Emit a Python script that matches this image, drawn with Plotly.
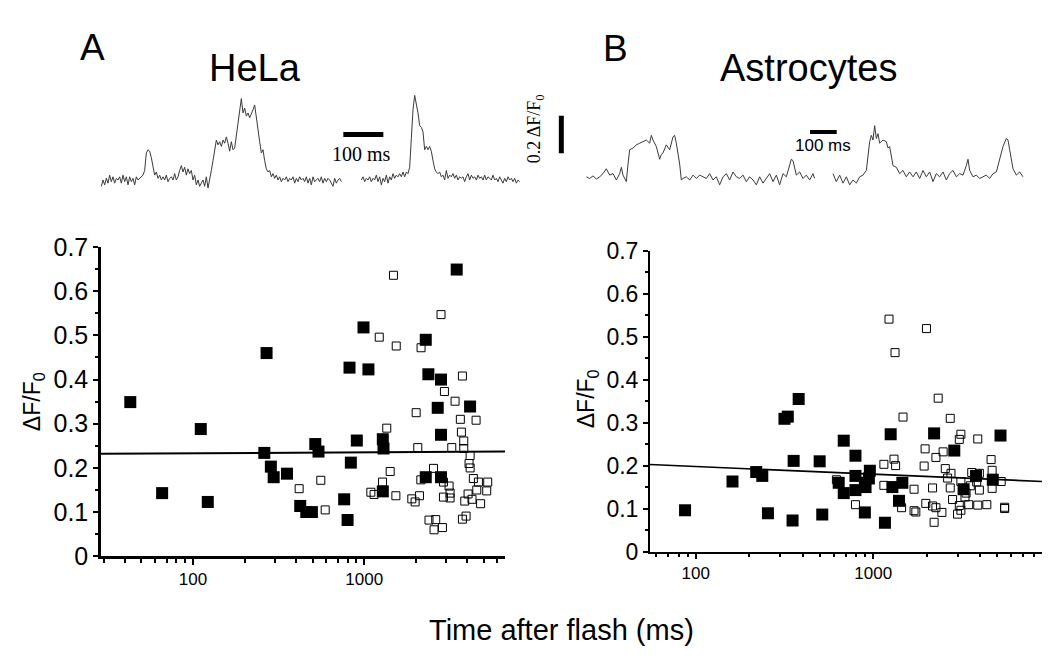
import numpy as np
import plotly.graph_objects as go

# ---------------- data: scatter panels (time after flash in ms, dF/F0) ----------------
A_FILLED_T = [43, 66, 111, 122, 269, 261, 285, 296, 354, 423, 459, 495, 518, 541, 764, 800, 821, 836,
              906, 991, 1059, 1285, 1297, 1285, 2290, 2372, 2290, 2812, 2690, 2812, 2812, 3473, 4157]
A_FILLED_Y = [0.349, 0.143, 0.288, 0.123, 0.46, 0.234, 0.203, 0.179, 0.187, 0.114, 0.1, 0.1, 0.254,
              0.237, 0.129, 0.082, 0.427, 0.212, 0.262, 0.518, 0.423, 0.265, 0.244, 0.147, 0.49, 0.412,
              0.179, 0.4, 0.336, 0.275, 0.179, 0.649, 0.339]
A_OPEN_T = [1483, 2812, 1225, 1539, 2150, 3750, 2944, 3397, 2013, 3647, 4507, 1355, 3700, 3818, 2057,
            3250, 3818, 4160, 4100, 4160, 2541, 1419, 2143, 2905, 4345, 4650, 5270, 3134, 558, 417,
            1280, 1094, 1143, 1532, 2104, 1898, 1985, 2905, 3177, 3177, 4047, 4550, 5200, 3870, 4265,
            4790, 592, 2392, 2618, 2560, 2865, 3750, 3940]
A_OPEN_Y = [0.636, 0.547, 0.496, 0.476, 0.472, 0.408, 0.373, 0.351, 0.325, 0.31, 0.308, 0.29, 0.281,
            0.261, 0.246, 0.246, 0.244, 0.228, 0.21, 0.2, 0.199, 0.192, 0.173, 0.168, 0.176, 0.168,
            0.168, 0.159, 0.172, 0.153, 0.168, 0.145, 0.14, 0.137, 0.137, 0.13, 0.123, 0.134, 0.132,
            0.143, 0.141, 0.15, 0.148, 0.125, 0.129, 0.119, 0.105, 0.082, 0.083, 0.06, 0.065, 0.084, 0.091]
A_FIT_T = [29, 6650]
A_FIT_Y = [0.232, 0.237]

B_FILLED_T = [87, 161, 219, 237, 255, 316, 330, 351, 356, 380, 499, 516, 639, 682, 682, 794, 794, 794,
              897, 897, 905, 945, 957, 1164, 1254, 1282, 1459, 1397, 2203, 2862, 3230, 3793, 4716, 5214]
B_FILLED_Y = [0.096, 0.163, 0.185, 0.176, 0.089, 0.309, 0.314, 0.072, 0.211, 0.355, 0.21, 0.086, 0.16,
              0.258, 0.136, 0.223, 0.176, 0.143, 0.16, 0.091, 0.15, 0.17, 0.188, 0.067, 0.273, 0.15,
              0.16, 0.118, 0.275, 0.235, 0.145, 0.176, 0.167, 0.27]
B_OPEN_T = [1227, 1995, 1327, 2323, 1472, 2716, 3118, 3055, 3881, 1960, 2477, 4614, 1309, 1337, 1148,
            1936, 2255, 2547, 2742, 2625, 3963, 4677, 3590, 3118, 3828, 5260, 620, 1148, 1698, 2158,
            2716, 3524, 4677, 3963, 3288, 3336, 2800, 3055, 3451, 3881, 4365, 5500, 5500, 794, 1445,
            1698, 1738, 1978, 2158, 2255, 2437, 2985, 3118, 2203]
B_OPEN_Y = [0.541, 0.519, 0.463, 0.357, 0.313, 0.31, 0.273, 0.261, 0.262, 0.239, 0.232, 0.214, 0.215,
            0.2, 0.203, 0.199, 0.219, 0.193, 0.182, 0.171, 0.182, 0.189, 0.184, 0.163, 0.162, 0.163,
            0.167, 0.154, 0.145, 0.148, 0.148, 0.153, 0.147, 0.143, 0.127, 0.136, 0.121, 0.107, 0.109,
            0.108, 0.109, 0.103, 0.1, 0.109, 0.102, 0.095, 0.092, 0.112, 0.106, 0.102, 0.091, 0.087,
            0.096, 0.068]
B_FIT_T = [55.2, 9050]
B_FIT_Y = [0.2025, 0.163]

X_TICKS = [100, 1000]
X_TICK_TEXT = ["100", "1000"]
Y_TICKS = [0, 0.1, 0.2, 0.3, 0.4, 0.5, 0.6, 0.7]
Y_TICK_TEXT = ["0", "0.1", "0.2", "0.3", "0.4", "0.5", "0.6", "0.7"]

# ---------------- data: example fluorescence traces (dF/F0) ----------------
HELA_DT = 25 / 6  # ms per sample
HELA_SEG1_T0 = 0
HELA_SEG1 = [-0.034, 0, -0.026, 0.009, -0.017, 0.026, -0.009, 0.017, -0.017, 0.009, 0, 0.017, -0.017,
             0.026, -0.009, 0.017, -0.026, 0.017, -0.009, 0.009, -0.026, 0.017, 0, 0.009, 0.017, 0.026,
             0.051, 0.145, 0.162, 0.154, 0.120, 0.060, 0.026, 0.043, 0.009, 0.026, 0, 0.017, 0, 0.026,
             -0.009, 0.009, 0.017, 0, 0.034, 0, 0.017, 0.051, 0.077, 0.043, 0.068, 0.026, 0.060, 0.034,
             0.051, 0, 0.026, -0.026, 0, -0.034, -0.017, 0, -0.034, 0.017, -0.043, 0.017, 0.051, 0.103,
             0.162, 0.214, 0.188, 0.205, 0.180, 0.214, 0.197, 0.231, 0.197, 0.154, 0.205, 0.162, 0.171,
             0.239, 0.308, 0.376, 0.436, 0.359, 0.385, 0.342, 0.359, 0.333, 0.351, 0.376, 0.402, 0.325,
             0.282, 0.205, 0.145, 0.162, 0.103, 0.060, 0.043, 0.051, 0.017, 0.034, 0.009, 0.026, 0,
             0.017, -0.009, 0.009, 0, 0.017, -0.009, 0.009, 0, 0.017, -0.017, 0.009, -0.009, 0.017, 0,
             0.009, -0.009, 0.017, -0.017, 0.009, -0.026, 0.017, -0.009, 0, 0.009, -0.009, 0.017,
             -0.017, 0.009, -0.009, 0.009, 0, -0.017, -0.034, 0.009, -0.017, 0, 0.009, -0.009]
HELA_SEG2_T0 = 650
HELA_SEG2 = [0, 0.017, -0.009, 0.009, 0, 0.017, -0.009, 0.009, 0, 0.026, -0.009, 0.017, -0.026, 0.009,
             -0.009, 0.026, -0.017, 0.017, 0, 0.034, 0.009, 0.026, 0.017, 0.034, 0.017, 0.043, 0.017,
             0.043, 0.034, 0.068, 0.222, 0.376, 0.453, 0.410, 0.359, 0.291, 0.282, 0.257, 0.162, 0.180,
             0.162, 0.180, 0.154, 0.103, 0.060, 0.043, 0.034, 0.043, 0.017, 0.026, 0, 0.051, 0.009,
             0.026, 0.017, 0.034, 0.009, 0.026, 0, 0.017, 0.009, 0.017, -0.009, 0.017, 0.034, 0, 0.026,
             0.009, 0.017, 0, 0.026, 0.009, 0.017, 0, 0.026, 0, 0.017, 0.009, 0, 0.026, 0, 0.009,
             -0.009, 0.017, 0, -0.017, 0.009, -0.009, 0.017, 0, 0.009, -0.009, 0.009, -0.017, 0, -0.009]

ASTRO_SEG1_T = [0, 12.5, 25, 37.5, 50, 62.5, 75, 87.5, 100, 112.5, 125, 131.25, 137.5, 150, 156.25,
                162.5, 175, 187.5, 200, 212.5, 225, 237.5, 243.75, 250, 262.5, 275, 281.25, 287.5, 300,
                312.5, 325, 331.25, 337.5, 350, 356.25, 362.5, 375, 387.5, 400, 412.5, 425, 437.5, 450,
                462.5, 475, 487.5, 500, 512.5, 525, 537.5, 550, 562.5, 575, 587.5, 600, 612.5, 625,
                637.5, 650, 662.5, 675, 687.5, 700, 712.5, 725, 737.5, 750, 762.5, 768.75, 775, 781.25,
                787.5, 800, 812.5, 825, 837.5, 850, 856.25]
ASTRO_SEG1_Y = [0, -0.009, 0.005, -0.012, 0, 0.017, 0.043, 0.009, 0.017, -0.017, 0.017, 0.051, 0.009,
                -0.026, 0.068, 0.145, 0.154, 0.171, 0.180, 0.188, 0.197, 0.180, 0.222, 0.197, 0.162,
                0.094, 0.120, 0.128, 0.171, 0.145, 0.214, 0.222, 0.180, 0.068, -0.017, -0.009, 0,
                -0.017, 0.009, -0.009, 0.009, 0, -0.009, 0.017, -0.017, 0, -0.043, 0, 0.017, -0.017,
                0.026, 0, -0.009, 0.009, -0.026, 0, -0.017, -0.043, 0, -0.034, -0.009, 0.017, -0.026,
                0.009, -0.043, 0.017, 0, 0.068, 0.094, 0.086, 0.043, 0.009, 0.026, -0.009, 0.009,
                -0.017, 0.017, -0.009]
ASTRO_SEG2_T = [925, 937.5, 950, 962.5, 975, 987.5, 1000, 1012.5, 1025, 1037.5, 1050, 1056.25, 1062.5,
                1068.75, 1075, 1081.25, 1087.5, 1093.75, 1100, 1112.5, 1125, 1131.25, 1137.5, 1150,
                1162.5, 1175, 1187.5, 1200, 1212.5, 1225, 1237.5, 1250, 1262.5, 1275, 1287.5, 1300,
                1312.5, 1325, 1337.5, 1350, 1362.5, 1375, 1387.5, 1400, 1412.5, 1425, 1431.25, 1437.5,
                1450, 1462.5, 1475, 1487.5, 1500, 1512.5, 1525, 1537.5, 1550, 1562.5, 1575, 1581.25,
                1587.5, 1600, 1612.5, 1625, 1637.5]
ASTRO_SEG2_Y = [0.017, -0.026, 0.009, -0.034, 0, -0.043, -0.017, -0.034, 0, 0.009, 0.034, 0.111, 0.188,
                0.222, 0.197, 0.274, 0.205, 0.231, 0.180, 0.197, 0.188, 0.154, 0.162, 0.060, 0.051,
                0.017, 0.034, 0, 0.026, 0, 0.026, -0.009, 0.034, 0, 0.026, -0.026, 0.017, 0, 0.026,
                -0.017, 0.017, 0.034, 0, 0.017, 0.009, 0.060, 0.094, 0.034, 0, 0.009, -0.009, 0, 0.009,
                -0.009, 0.017, 0.026, 0.094, 0.162, 0.205, 0.197, 0.145, 0.043, 0.009, 0.026, 0]

SCALE_MS = 100
SCALE_DFF = 0.2

# ---------------- layout helpers ----------------
W, H = 1050, 659
FONT = "Liberation Sans, Arial, sans-serif"
SERIF = "Liberation Serif, Times New Roman, serif"


def dom_x(a, b):
    return [a / W, b / W]


def dom_y(top, bottom):
    return [1 - bottom / H, 1 - top / H]


fig = go.Figure()

# scatter panel A
fig.add_trace(go.Scatter(x=A_OPEN_T, y=A_OPEN_Y, mode="markers", xaxis="x", yaxis="y",
                         marker=dict(symbol="square-open", size=8, color="black", line=dict(width=1))))
fig.add_trace(go.Scatter(x=A_FILLED_T, y=A_FILLED_Y, mode="markers", xaxis="x", yaxis="y",
                         marker=dict(symbol="square", size=12, color="black", line=dict(width=0))))
fig.add_trace(go.Scatter(x=A_FIT_T, y=A_FIT_Y, mode="lines", xaxis="x", yaxis="y",
                         line=dict(color="black", width=2)))

# scatter panel B
fig.add_trace(go.Scatter(x=B_OPEN_T, y=B_OPEN_Y, mode="markers", xaxis="x2", yaxis="y2",
                         marker=dict(symbol="square-open", size=8, color="black", line=dict(width=1))))
fig.add_trace(go.Scatter(x=B_FILLED_T, y=B_FILLED_Y, mode="markers", xaxis="x2", yaxis="y2",
                         marker=dict(symbol="square", size=12, color="black", line=dict(width=0))))
fig.add_trace(go.Scatter(x=B_FIT_T, y=B_FIT_Y, mode="lines", xaxis="x2", yaxis="y2",
                         line=dict(color="black", width=1.6)))

# traces
trace_line = dict(color="#3a3a3a", width=1)
hela_t1 = HELA_SEG1_T0 + np.arange(len(HELA_SEG1)) * HELA_DT
hela_t2 = HELA_SEG2_T0 + np.arange(len(HELA_SEG2)) * HELA_DT
fig.add_trace(go.Scatter(x=hela_t1, y=HELA_SEG1, mode="lines", xaxis="x3", yaxis="y3", line=trace_line))
fig.add_trace(go.Scatter(x=hela_t2, y=HELA_SEG2, mode="lines", xaxis="x3", yaxis="y3", line=trace_line))
fig.add_trace(go.Scatter(x=ASTRO_SEG1_T, y=ASTRO_SEG1_Y, mode="lines", xaxis="x4", yaxis="y4", line=trace_line))
fig.add_trace(go.Scatter(x=ASTRO_SEG2_T, y=ASTRO_SEG2_Y, mode="lines", xaxis="x4", yaxis="y4", line=trace_line))

# scale bars
bar_a_t0, bar_a_y = 605, 0.2436
bar_v_t, bar_v_y0 = 1150, 0.1436
bar_b_t0, bar_b_y = 839, 0.2393
fig.add_shape(type="line", xref="x3", yref="y3", x0=bar_a_t0, x1=bar_a_t0 + SCALE_MS, y0=bar_a_y, y1=bar_a_y,
              line=dict(color="black", width=5))
fig.add_shape(type="line", xref="x3", yref="y3", x0=bar_v_t, x1=bar_v_t, y0=bar_v_y0, y1=bar_v_y0 + SCALE_DFF,
              line=dict(color="black", width=5))
fig.add_shape(type="line", xref="x4", yref="y4", x0=bar_b_t0, x1=bar_b_t0 + SCALE_MS, y0=bar_b_y, y1=bar_b_y,
              line=dict(color="black", width=4))

xa_common = dict(type="log", showline=True, linecolor="black", ticks="outside", tickcolor="black",
                 tickvals=X_TICKS, ticktext=X_TICK_TEXT, showgrid=False, zeroline=False,
                 tickfont=dict(family=FONT, size=17, color="black"))
ya_common = dict(showline=True, linecolor="black", ticks="outside", tickcolor="black", range=[0, 0.7],
                 tickvals=Y_TICKS, ticktext=Y_TICK_TEXT, showgrid=False, zeroline=False)

minor_a = [v * m for m in (10, 100, 1000) for v in range(2, 10)]

fig.update_layout(
    width=W, height=H, margin=dict(l=0, r=0, t=0, b=0), autosize=False,
    paper_bgcolor="white", plot_bgcolor="white", showlegend=False,
    xaxis=dict(**xa_common, domain=dom_x(93, 497), anchor="y",
               range=[np.log10(29), np.log10(6650)], linewidth=2.5, ticklen=6, tickwidth=2,
               minor=dict(ticks="outside", ticklen=4, tickwidth=1.5, tickcolor="black",
                          tickvals=[v for v in minor_a if 29 <= v <= 6650])),
    yaxis=dict(**ya_common, domain=dom_y(235, 558), anchor="x", linewidth=2.5, ticklen=5, tickwidth=2,
               tickfont=dict(family=FONT, size=25, color="black"),
               minor=dict(ticks="outside", ticklen=3, tickwidth=1.5, tickcolor="black",
                          tickvals=[0.05, 0.15, 0.25, 0.35, 0.45, 0.55, 0.65])),
    xaxis2=dict(**xa_common, domain=dom_x(642, 1035), anchor="y2",
                range=[1.742, np.log10(9050)], linewidth=2, ticklen=5, tickwidth=2,
                minor=dict(ticks="outside", ticklen=3, tickwidth=1.5, tickcolor="black",
                           tickvals=[v for v in minor_a if 55 <= v <= 9050])),
    yaxis2=dict(**ya_common, domain=dom_y(239, 553), anchor="x2", linewidth=2, ticklen=5, tickwidth=2,
                tickfont=dict(family=FONT, size=23, color="black"),
                minor=dict(ticks="outside", ticklen=3, tickwidth=1.5, tickcolor="black",
                           tickvals=[0.05, 0.15, 0.25, 0.35, 0.45, 0.55, 0.65])),
    xaxis3=dict(visible=False, domain=dom_x(85, 562), anchor="y3",
                range=[(85 - 93.33) * 2.5, (562 - 93.33) * 2.5]),
    yaxis3=dict(visible=False, domain=dom_y(60, 180), anchor="x3",
                range=[-15 * 0.2 / 39, 105 * 0.2 / 39]),
    xaxis4=dict(visible=False, domain=dom_x(570, 1020), anchor="y4",
                range=[(570 - 578.33) * 3.75, (1020 - 578.33) * 3.75]),
    yaxis4=dict(visible=False, domain=dom_y(60, 180), anchor="x4",
                range=[(161.67 - 180) * 0.2 / 39, (161.67 - 60) * 0.2 / 39]),
)


def label(text, px, py, size, family=FONT, angle=0):
    fig.add_annotation(text=text, x=px / W, y=1 - py / H, xref="paper", yref="paper",
                       xanchor="center", yanchor="middle", showarrow=False, textangle=angle,
                       font=dict(family=family, size=size, color="black"))


label("A", 84, 27, 37)
label("HeLa", 247, 48, 38)
label("B", 607, 28, 37)
label("Astrocytes", 800, 48, 38)
label("100 ms", 353, 138, 20, family=SERIF)
label("100 ms", 815, 129, 17)
label("0.2 ΔF/F<sub>0</sub>", 527, 112, 18, family=SERIF, angle=-90)
label("ΔF/F<sub>0</sub>", 25, 397, 23, angle=-90)
label("ΔF/F<sub>0</sub>", 579, 394, 23, angle=-90)
label("Time after flash (ms)", 553, 635, 29)

fig.write_html("out.html")
